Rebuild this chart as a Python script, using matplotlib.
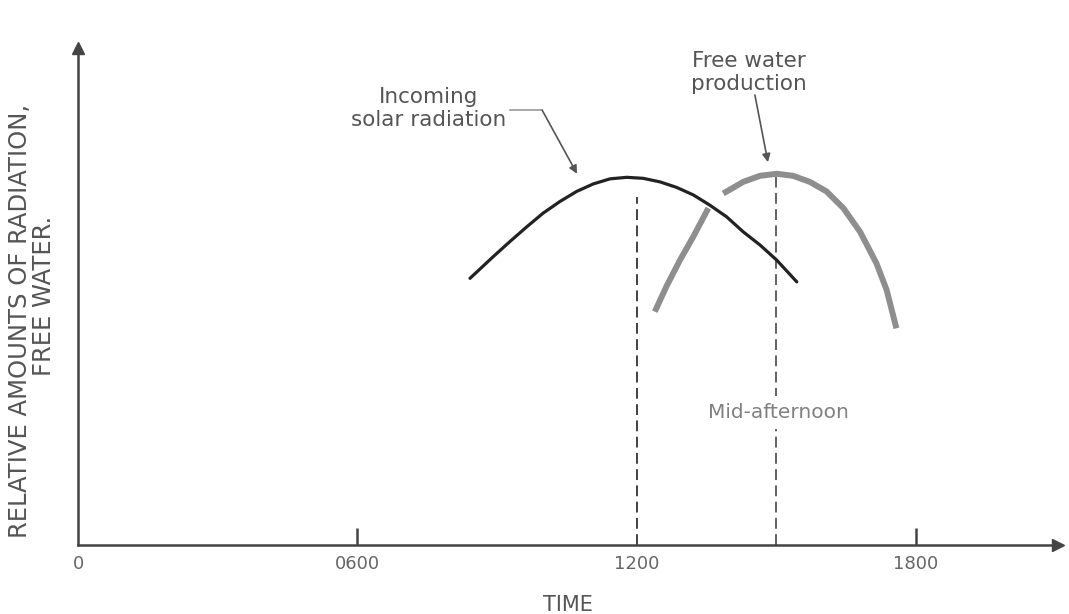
import matplotlib.pyplot as plt
import numpy as np

plt.rcParams['font.family'] = 'DejaVu Sans'

# Time of day in hours, relative amounts
solar_hours = [8.42, 8.92, 9.28, 9.64, 9.99, 10.35, 10.71, 11.07, 11.43, 11.79,
               12.14, 12.50, 12.86, 13.22, 13.57, 13.93, 14.29, 14.65, 15.01, 15.44]
solar_amount = [5.28, 5.71, 6.01, 6.30, 6.57, 6.80, 7.00, 7.15, 7.25, 7.28,
                7.26, 7.19, 7.08, 6.93, 6.73, 6.50, 6.20, 5.94, 5.64, 5.21]

water_hours = [12.39, 12.64, 12.93, 13.22, 13.54,
               13.86, 14.29, 14.65, 15.01, 15.36, 15.72, 16.08, 16.44, 16.80, 17.15, 17.37, 17.58]
water_amount = [4.62, 5.12, 5.64, 6.11, 6.67,
                6.96, 7.19, 7.31, 7.35, 7.31, 7.19, 7.00, 6.67, 6.20, 5.58, 5.05, 4.29]
water_break = 5  # gray curve is interrupted where the black curve passes over it

noon_hour, noon_mark = 12, 6.89
mid_afternoon_hour, mid_afternoon_mark = 15, 7.35

tick_hours = [0, 6, 12, 18]
tick_labels = ['0', '0600', '1200', '1800']

axis_col = '#444444'
text_col = '#555555'

fig = plt.figure(figsize=(10.69, 6.14), dpi=100)
ax = fig.add_axes([0.07297, 0.11238, 0.9167, 0.8094])
ax.set_xlim(0, 21.05)
ax.set_ylim(0, 9.84)

# axes drawn as arrows
for side in ['top', 'right']:
    ax.spines[side].set_visible(False)
for side in ['left', 'bottom']:
    ax.spines[side].set_color(axis_col)
    ax.spines[side].set_linewidth(1.8)
ax.plot(1, 0, '>', color=axis_col, ms=8, transform=ax.get_yaxis_transform(), clip_on=False)
ax.plot(0, 1, '^', color=axis_col, ms=8, transform=ax.get_xaxis_transform(), clip_on=False)

ax.set_yticks([])
ax.set_xticks(tick_hours)
ax.set_xticklabels(tick_labels, fontsize=13, color='#666666')
ax.tick_params(axis='x', direction='in', length=12, width=1.8, color=axis_col, pad=7)
ax.xaxis.get_major_ticks()[0].tick1line.set_visible(False)
ax.xaxis.get_major_ticks()[2].tick1line.set_visible(False)

# reference lines at noon and mid-afternoon
ax.vlines(noon_hour, 0, noon_mark, colors='#333333', linestyles=(0, (6, 3)), lw=1.3)
ax.vlines(mid_afternoon_hour, 0, mid_afternoon_mark, colors='#555555', linestyles=(0, (6, 3)), lw=1.3)

# curves
ax.plot(solar_hours, solar_amount, color='#222222', lw=2.3,
        solid_capstyle='round', solid_joinstyle='round')
ax.plot(water_hours[:water_break], water_amount[:water_break], color='#8e8e8e', lw=4.3,
        solid_capstyle='butt', solid_joinstyle='round')
ax.plot(water_hours[water_break:], water_amount[water_break:], color='#8e8e8e', lw=4.3,
        solid_capstyle='butt', solid_joinstyle='round')

# labels with leader arrows
ax.text(7.54, 8.65, 'Incoming\nsolar radiation', ha='center', va='center',
        fontsize=15.5, color=text_col, linespacing=1.2)
ax.plot([9.28, 9.97], [8.61, 8.61], color='#999999', lw=1.2)
ax.annotate('', xy=(10.72, 7.35), xytext=(9.97, 8.61),
            arrowprops=dict(arrowstyle='-|>', color='#555555', lw=1.2, mutation_scale=12,
                            shrinkA=0, shrinkB=0))

ax.text(14.41, 9.36, 'Free water\nproduction', ha='center', va='center',
        fontsize=15.5, color=text_col, linespacing=1.2)
ax.annotate('', xy=(14.82, 7.58), xytext=(14.54, 8.91),
            arrowprops=dict(arrowstyle='-|>', color='#555555', lw=1.2, mutation_scale=12,
                            shrinkA=0, shrinkB=0))

ax.text(15.04, 2.63, 'Mid-afternoon', ha='center', va='center', fontsize=14.5,
        color='#808080', bbox=dict(facecolor='white', edgecolor='none', pad=5))

ax.set_xlabel('TIME', fontsize=15, color=text_col, labelpad=16)

fig.text(20 / 1069, 1 - 321 / 614, 'RELATIVE AMOUNTS OF RADIATION,', rotation=90,
         ha='center', va='center', fontsize=17.5, color=text_col)
fig.text(44 / 1069, 1 - 296 / 614, 'FREE WATER.', rotation=90,
         ha='center', va='center', fontsize=17.5, color=text_col)

fig.savefig('out.png', dpi=100)
